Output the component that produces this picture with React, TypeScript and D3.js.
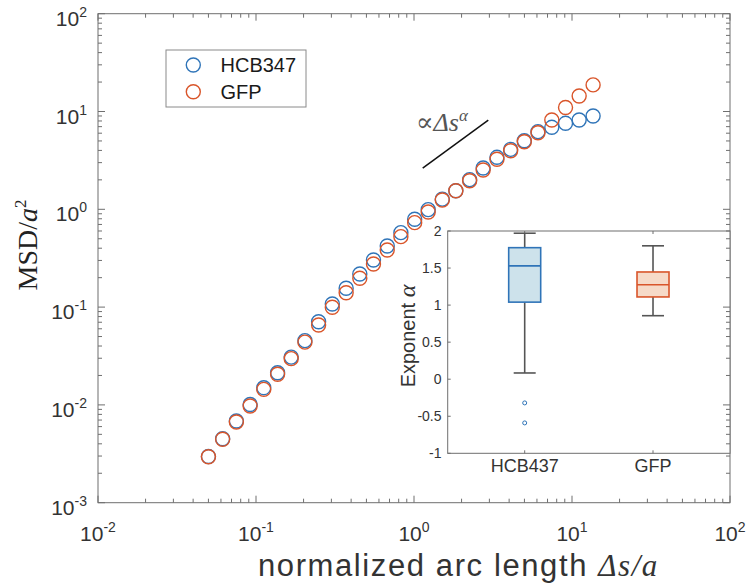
import React from "react";
import * as d3 from "d3";

// ---------- data ----------
const arcLength = [0.050, 0.0615, 0.0751, 0.0918, 0.112, 0.137, 0.167, 0.204, 0.249, 0.304, 0.372, 0.454, 0.554, 0.677, 0.826, 1.01, 1.23, 1.51, 1.84, 2.25, 2.74, 3.35, 4.09, 4.99, 6.09, 7.45, 9.10, 11.1, 13.6];
const msdHCB = [0.00297, 0.0045, 0.00685, 0.0101, 0.0150, 0.0213, 0.0308, 0.0454, 0.0709, 0.1076, 0.156, 0.218, 0.303, 0.421, 0.577, 0.790, 0.992, 1.27, 1.55, 2.01, 2.64, 3.40, 4.10, 5.03, 6.22, 6.89, 7.57, 8.19, 8.99];
const msdGFP = [0.00295, 0.00445, 0.00669, 0.00975, 0.0144, 0.0206, 0.0297, 0.0438, 0.0656, 0.0995, 0.140, 0.197, 0.276, 0.384, 0.525, 0.730, 0.938, 1.245, 1.55, 1.96, 2.52, 3.25, 3.97, 4.91, 6.07, 8.19, 11.0, 14.4, 18.7];
const seriesNames = ["HCB347", "GFP"];
const guideX = [1.135, 2.953];
const guideY = [2.63, 8.18];

const xTickExps = [-2, -1, 0, 1, 2];
const yTickExps = [-3, -2, -1, 0, 1, 2];

// inset box plot
const boxGroups = ["HCB437", "GFP"];
const boxWhiskerHigh = [1.97, 1.80];
const boxQ3 = [1.775, 1.447];
const boxMedian = [1.53, 1.275];
const boxQ1 = [1.04, 1.11];
const boxWhiskerLow = [0.084, 0.857];
const outliersHCB = [-0.32, -0.59];
const insetYTicks = [-1, -0.5, 0, 0.5, 1, 1.5, 2];
const insetYTickLabels = ["-1", "-0.5", "0", "0.5", "1", "1.5", "2"];

// ---------- styles ----------
const BLUE = "#2f74b8";
const RED = "#d9552a";
const AXIS = "#6f6f6f";
const TXT = "#333333";
const SANS = "'Liberation Sans', Arial, Helvetica, sans-serif";
const SERIF = "'Liberation Serif', 'Times New Roman', 'DejaVu Serif', serif";

export default function App() {
  const L = 98, R = 730, T = 13.7, B = 502.7;
  const x = d3.scaleLog().domain([0.01, 100]).range([L, R]);
  const y = d3.scaleLog().domain([0.001, 100]).range([B, T]);

  const majorX = xTickExps.map((e) => Math.pow(10, e));
  const majorY = yTickExps.map((e) => Math.pow(10, e));
  const minor = (exps: number[]) => {
    const out: number[] = [];
    for (let i = 0; i < exps.length - 1; i++)
      for (let m = 2; m <= 9; m++) out.push(m * Math.pow(10, exps[i]));
    return out;
  };
  const minorX = minor(xTickExps);
  const minorY = minor(yTickExps);

  // inset
  const iL = 447.7, iR = 730, iT = 231, iB = 453.3;
  const ix = d3.scaleLinear().domain([0.4, 2.6]).range([iL, iR]);
  const iy = d3.scaleLinear().domain([-1, 2]).range([iB, iT]);
  const boxW = 32;
  const capW = 22;
  const boxFill = ["#cde2eb", "#f6dac8"];
  const boxStroke = [BLUE, RED];

  const rightTicks = (
    <g stroke={AXIS} strokeWidth={1}>
      {majorY.map((v, i) => (
        <line key={"rM" + i} x1={R} x2={R - 7} y1={y(v)} y2={y(v)} />
      ))}
      {minorY.map((v, i) => (
        <line key={"rm" + i} x1={R} x2={R - 4} y1={y(v)} y2={y(v)} />
      ))}
    </g>
  );

  return (
    <svg
      width={750}
      height={588}
      style={{ position: "absolute", left: 0, top: 0, background: "#fff" }}
      fontFamily={SANS}
    >
      <rect x={0} y={0} width={750} height={588} fill="#fff" />
      {/* main frame */}
      <rect x={L} y={T} width={R - L} height={B - T} fill="none" stroke={AXIS} strokeWidth={1} />
      <g stroke={AXIS} strokeWidth={1}>
        {majorX.map((v, i) => (
          <g key={"xM" + i}>
            <line x1={x(v)} x2={x(v)} y1={B} y2={B - 7} />
            <line x1={x(v)} x2={x(v)} y1={T} y2={T + 7} />
          </g>
        ))}
        {minorX.map((v, i) => (
          <g key={"xm" + i}>
            <line x1={x(v)} x2={x(v)} y1={B} y2={B - 4} />
            <line x1={x(v)} x2={x(v)} y1={T} y2={T + 4} />
          </g>
        ))}
        {majorY.map((v, i) => (
          <line key={"yM" + i} x1={L} x2={L + 7} y1={y(v)} y2={y(v)} />
        ))}
        {minorY.map((v, i) => (
          <line key={"ym" + i} x1={L} x2={L + 4} y1={y(v)} y2={y(v)} />
        ))}
      </g>
      {/* tick labels */}
      <g fill={TXT} fontSize={21}>
        {xTickExps.map((e, i) => (
          <text key={"xl" + i} x={x(Math.pow(10, e))} y={B + 38} textAnchor="middle">
            10<tspan dy={-9} fontSize={14}>{e}</tspan>
          </text>
        ))}
        {yTickExps.map((e, i) => (
          <text key={"yl" + i} x={87} y={y(Math.pow(10, e)) + 12} textAnchor="end">
            10<tspan dy={-9} fontSize={14}>{e}</tspan>
          </text>
        ))}
      </g>
      {/* axis titles */}
      <text x={258} y={576} fontSize={31} letterSpacing={1.6} fill={TXT}>
        normalized arc length{" "}
        <tspan fontFamily={SERIF} fontStyle="italic">Δs/a</tspan>
      </text>
      <text
        transform={`translate(37,245) rotate(-90)`}
        textAnchor="middle"
        fontFamily={SERIF}
        fontSize={28}
        fill="#222"
      >
        MSD/<tspan fontStyle="italic">a</tspan>
        <tspan dy={-11} fontSize={17}>2</tspan>
      </text>

      {/* data */}
      <g fill="none" strokeWidth={1.4}>
        {arcLength.map((s, i) => (
          <circle key={"b" + i} cx={x(s)} cy={y(msdHCB[i])} r={7} stroke={BLUE} />
        ))}
        {arcLength.map((s, i) => (
          <circle key={"r" + i} cx={x(s)} cy={y(msdGFP[i])} r={7} stroke={RED} />
        ))}
      </g>

      {/* guide line and annotation */}
      <line
        x1={x(guideX[0])}
        y1={y(guideY[0])}
        x2={x(guideX[1])}
        y2={y(guideY[1])}
        stroke="#111"
        strokeWidth={1.5}
      />
      <text x={416} y={131} fontFamily={SERIF} fontSize={26} fill="#555">
        ∝<tspan fontStyle="italic">Δs</tspan>
        <tspan dy={-10} fontSize={17} fontStyle="italic">α</tspan>
      </text>

      {/* legend */}
      <rect x={166} y={50} width={140} height={57} fill="#fff" stroke="#8a8a8a" strokeWidth={1} />
      {seriesNames.map((n, i) => (
        <g key={"lg" + i}>
          <circle cx={193.3} cy={65 + i * 26.7} r={7} fill="none" stroke={i === 0 ? BLUE : RED} strokeWidth={1.4} />
          <text x={220.5} y={72 + i * 26.7} fontSize={20} fill="#1a1a1a">
            {n}
          </text>
        </g>
      ))}

      {/* inset */}
      <rect x={iL} y={iT} width={iR - iL} height={iB - iT} fill="#fff" stroke={AXIS} strokeWidth={1} />
      <g stroke={AXIS} strokeWidth={1}>
        {insetYTicks.map((v, i) => (
          <g key={"iyt" + i}>
            <line x1={iL} x2={iL + 3} y1={iy(v)} y2={iy(v)} />
          </g>
        ))}
        {boxGroups.map((g, i) => (
          <g key={"ixt" + i}>
            <line x1={ix(i + 1)} x2={ix(i + 1)} y1={iB} y2={iB - 3} />
            <line x1={ix(i + 1)} x2={ix(i + 1)} y1={iT} y2={iT + 3} />
          </g>
        ))}
      </g>
      <g fill={TXT} fontSize={14}>
        {insetYTicks.map((v, i) => (
          <text key={"iyl" + i} x={441.5} y={iy(v) + 5} textAnchor="end">
            {insetYTickLabels[i]}
          </text>
        ))}
      </g>
      <g fill={TXT} fontSize={18}>
        {boxGroups.map((g, i) => (
          <text key={"ixl" + i} x={ix(i + 1)} y={iB + 19} textAnchor="middle">
            {g}
          </text>
        ))}
      </g>
      <text transform={`translate(415,336) rotate(-90)`} textAnchor="middle" fontSize={20} fill={TXT}>
        Exponent{"  "}
        <tspan fontFamily={SERIF} fontStyle="italic" fontSize={24}>α</tspan>
      </text>
      {boxGroups.map((g, i) => {
        const cx = ix(i + 1);
        return (
          <g key={"box" + i}>
            <line x1={cx} x2={cx} y1={iy(boxWhiskerHigh[i])} y2={iy(boxQ3[i])} stroke="#555" strokeWidth={1.6} />
            <line x1={cx} x2={cx} y1={iy(boxQ1[i])} y2={iy(boxWhiskerLow[i])} stroke="#555" strokeWidth={1.6} />
            <line x1={cx - capW / 2} x2={cx + capW / 2} y1={iy(boxWhiskerHigh[i])} y2={iy(boxWhiskerHigh[i])} stroke="#555" strokeWidth={1.6} />
            <line x1={cx - capW / 2} x2={cx + capW / 2} y1={iy(boxWhiskerLow[i])} y2={iy(boxWhiskerLow[i])} stroke="#555" strokeWidth={1.6} />
            <rect
              x={cx - boxW / 2}
              y={iy(boxQ3[i])}
              width={boxW}
              height={iy(boxQ1[i]) - iy(boxQ3[i])}
              fill={boxFill[i]}
              stroke={boxStroke[i]}
              strokeWidth={1.6}
            />
            <line x1={cx - boxW / 2} x2={cx + boxW / 2} y1={iy(boxMedian[i])} y2={iy(boxMedian[i])} stroke={boxStroke[i]} strokeWidth={1.6} />
          </g>
        );
      })}
      {outliersHCB.map((v, i) => (
        <circle key={"o" + i} cx={ix(1)} cy={iy(v)} r={2} fill="none" stroke={BLUE} strokeWidth={1} />
      ))}
      {rightTicks}
    </svg>
  );
}
